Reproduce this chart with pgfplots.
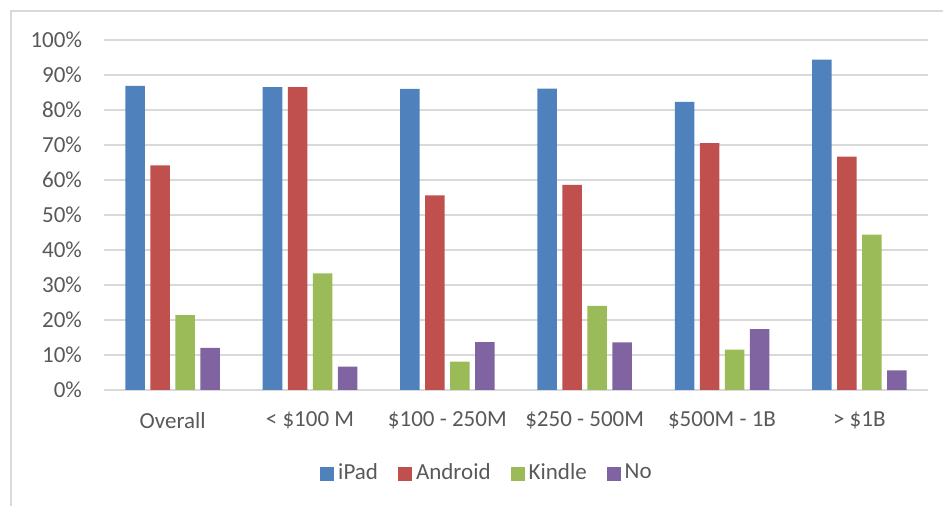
\documentclass[border=0pt]{standalone}
\usepackage{fontspec}
\setmainfont{Carlito}
\usepackage{pgfplots}
\pgfplotsset{compat=1.18}
\definecolor{cIpad}{HTML}{4F81BD}
\definecolor{cAndroid}{HTML}{C0504D}
\definecolor{cKindle}{HTML}{9BBB59}
\definecolor{cNo}{HTML}{8064A2}
\definecolor{gridc}{HTML}{D9D9D9}
\definecolor{framec}{HTML}{D9D9D9}
\definecolor{textc}{HTML}{595959}
\begin{document}
\begin{tikzpicture}
\useasboundingbox (0,0) rectangle (471.5pt,-253pt);
\draw[color=framec, line width=0.75pt] (5.5pt,-260pt) -- (5.5pt,-5.5pt) -- (480pt,-5.5pt);
\begin{axis}[
  at={(52pt,-195pt)}, anchor=south west,
  scale only axis, width=412pt, height=175pt,
  ybar=2.75pt, bar width=9.75pt,
  xmin=-0.5, xmax=5.5, ymin=0, ymax=100,
  enlargelimits=false,
  xtick={0,1,2,3,4,5},
  xticklabels={Overall,{< \$100 M},{\$100 - 250M},{\$250 - 500M},{\$500M - 1B},{> \$1B}},
  ytick={0,10,...,100},
  yticklabel={\pgfmathprintnumber{\tick}\%},
  /pgf/number format/assume math mode=true,
  ymajorgrids, grid style={gridc, line width=0.8pt},
  axis x line*=bottom, axis y line*=left,
  x axis line style={gridc, line width=0.8pt, -},
  y axis line style={draw=none},
  tick style={draw=none},
  major tick length=0pt,
  ticklabel style={font=\fontsize{11.5pt}{13pt}\selectfont, text=textc},
  xticklabel style={yshift=-7.5pt},
  yticklabel style={xshift=-7.5pt},
  legend columns=4,
  legend style={at={(0.466,-0.237)}, anchor=center, draw=none, fill=none,
    font=\fontsize{11.5pt}{13pt}\selectfont, text=textc,
    /tikz/every even column/.append style={column sep=8pt}},
  legend image code/.code={\path[fill=none,draw=none] (0pt,-8pt) rectangle (7pt,8pt);\fill[#1,draw=none] (0pt,-4pt) rectangle (7pt,3pt);},
]
\addplot[fill=cIpad, draw=none] coordinates {(0,86.9) (1,86.5) (2,86.0) (3,86.1) (4,82.3) (5,94.4)};
\addplot[fill=cAndroid, draw=none] coordinates {(0,64.2) (1,86.5) (2,55.6) (3,58.6) (4,70.5) (5,66.7)};
\addplot[fill=cKindle, draw=none] coordinates {(0,21.4) (1,33.3) (2,8.1) (3,24.0) (4,11.5) (5,44.4)};
\addplot[fill=cNo, draw=none] coordinates {(0,12.0) (1,6.7) (2,13.7) (3,13.6) (4,17.4) (5,5.6)};
\legend{iPad,Android,Kindle,No}
\end{axis}
\end{tikzpicture}
\end{document}
